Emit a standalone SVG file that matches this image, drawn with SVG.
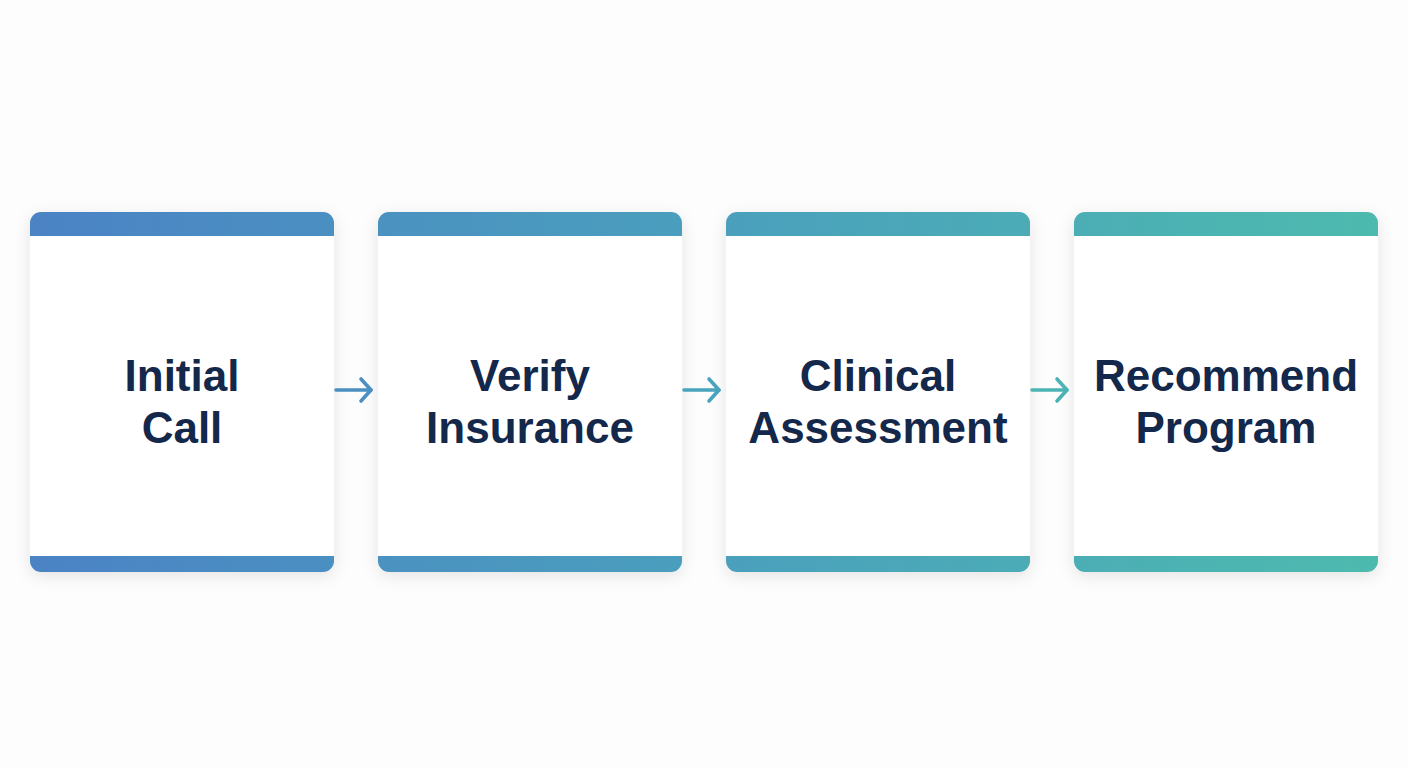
<svg xmlns="http://www.w3.org/2000/svg" width="1408" height="768" viewBox="0 0 1408 768">
<defs>
<linearGradient id="g" gradientUnits="userSpaceOnUse" x1="30" y1="0" x2="1378" y2="0">
<stop offset="0" stop-color="#4b83c5"/>
<stop offset="0.5" stop-color="#4a9fbd"/>
<stop offset="1" stop-color="#4dbaae"/>
</linearGradient>
<filter id="sh" x="-20%" y="-20%" width="140%" height="140%">
<feDropShadow dx="0" dy="4" stdDeviation="8" flood-color="#000" flood-opacity="0.10"/>
</filter>
<clipPath id="c1"><rect x="30" y="212" width="304" height="360" rx="11"/></clipPath>
<clipPath id="c2"><rect x="378" y="212" width="304" height="360" rx="11"/></clipPath>
<clipPath id="c3"><rect x="726" y="212" width="304" height="360" rx="11"/></clipPath>
<clipPath id="c4"><rect x="1074" y="212" width="304" height="360" rx="11"/></clipPath>
<marker id="ah" viewBox="0 0 16 28" refX="13" refY="14" markerWidth="16" markerHeight="28" markerUnits="userSpaceOnUse" orient="auto">
<path d="M3 3 L13 14 L3 25" fill="none" stroke="context-stroke" stroke-width="3.6" stroke-linecap="round" stroke-linejoin="round"/>
</marker>
</defs>
<style>
.card{fill:#fff;filter:url(#sh)}
.bar{fill:url(#g)}
.lbl{font-family:"Liberation Sans",Arial,sans-serif;font-weight:bold;font-size:44px;fill:#13284a;text-anchor:middle}
.arr{fill:none;stroke-width:3.6;stroke-linecap:round}
</style>
<rect width="1408" height="768" fill="#fdfdfd"/>
<g id="n1">
<rect class="card" x="30" y="212" width="304" height="360" rx="11"/>
<g clip-path="url(#c1)"><rect class="bar" x="30" y="212" width="304" height="24"/><rect class="bar" x="30" y="556" width="304" height="16"/></g>
<text class="lbl" x="182" y="391">Initial</text>
<text class="lbl" x="182" y="443">Call</text>
</g>
<g id="n2">
<rect class="card" x="378" y="212" width="304" height="360" rx="11"/>
<g clip-path="url(#c2)"><rect class="bar" x="378" y="212" width="304" height="24"/><rect class="bar" x="378" y="556" width="304" height="16"/></g>
<text class="lbl" x="530" y="391">Verify</text>
<text class="lbl" x="530" y="443">Insurance</text>
</g>
<g id="n3">
<rect class="card" x="726" y="212" width="304" height="360" rx="11"/>
<g clip-path="url(#c3)"><rect class="bar" x="726" y="212" width="304" height="24"/><rect class="bar" x="726" y="556" width="304" height="16"/></g>
<text class="lbl" x="878" y="391">Clinical</text>
<text class="lbl" x="878" y="443">Assessment</text>
</g>
<g id="n4">
<rect class="card" x="1074" y="212" width="304" height="360" rx="11"/>
<g clip-path="url(#c4)"><rect class="bar" x="1074" y="212" width="304" height="24"/><rect class="bar" x="1074" y="556" width="304" height="16"/></g>
<text class="lbl" x="1226" y="391">Recommend</text>
<text class="lbl" x="1226" y="443">Program</text>
</g>
<g id="connectors">
<path class="arr" d="M336 390 H371" stroke="#4a8ec2" marker-end="url(#ah)"/>
<path class="arr" d="M684 390 H719" stroke="#48a3bd" marker-end="url(#ah)"/>
<path class="arr" d="M1032 390 H1067" stroke="#4bb3b3" marker-end="url(#ah)"/>
</g>
</svg>
